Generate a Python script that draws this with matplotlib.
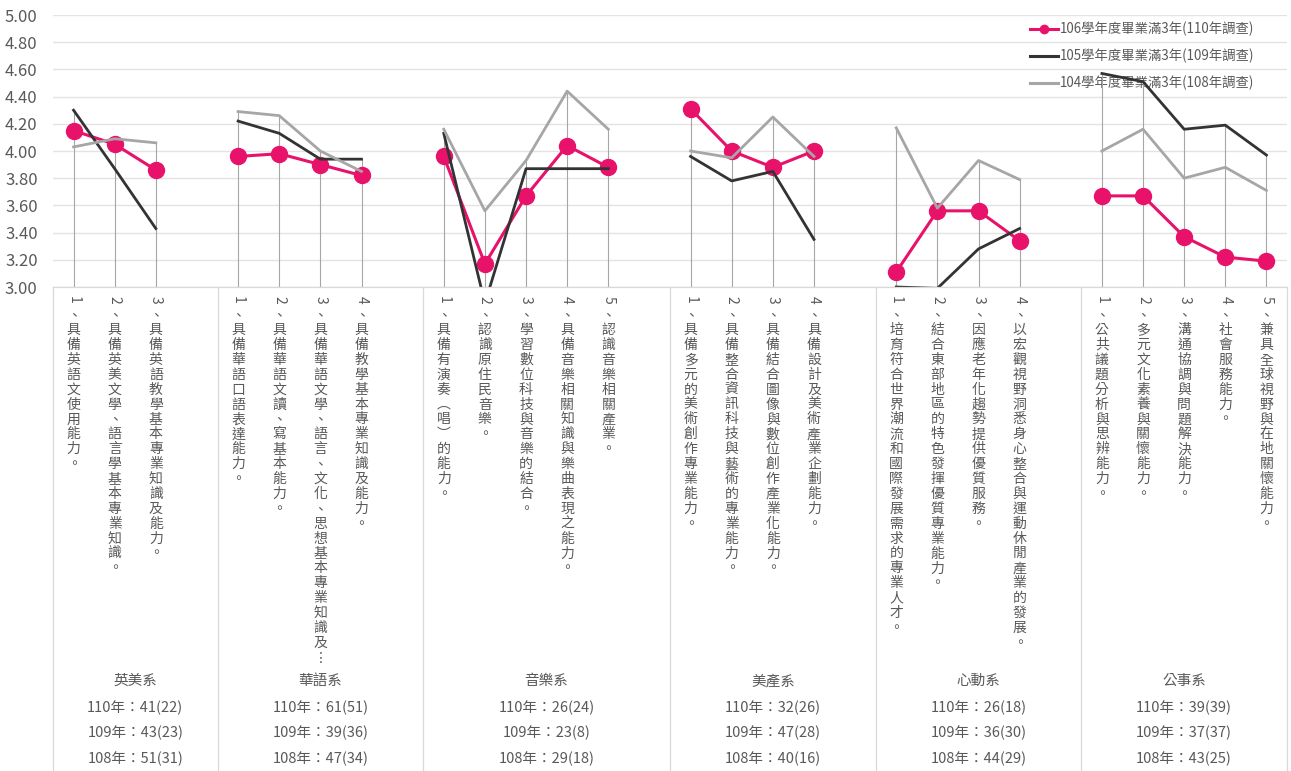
import numpy as np
import matplotlib
matplotlib.use("Agg")
import matplotlib.pyplot as plt
from matplotlib.transforms import blended_transform_factory
from matplotlib.lines import Line2D

plt.rcParams['font.family'] = ['Noto Sans CJK TC', 'DejaVu Sans']

# ---------------- data ----------------
groups = ['英美系', '華語系', '音樂系', '美產系', '心動系', '公事系']

labels = [
    ['1、具備英語文使用能力。',
     '2、具備英美文學、語言學基本專業知識。',
     '3、具備英語教學基本專業知識及能力。'],
    ['1、具備華語口語表達能力。',
     '2、具備華語文讀、寫基本能力。',
     '3、具備華語文學、語言、文化、思想基本專業知識及⋮',
     '4、具備教學基本專業知識及能力。'],
    ['1、具備有演奏︵唱︶的能力。',
     '2、認識原住民音樂。',
     '3、學習數位科技與音樂的結合。',
     '4、具備音樂相關知識與樂曲表現之能力。',
     '5、認識音樂相關產業。'],
    ['1、具備多元的美術創作專業能力。',
     '2、具備整合資訊科技與藝術的專業能力。',
     '3、具備結合圖像與數位創作產業化能力。',
     '4、具備設計及美術產業企劃能力。'],
    ['1、培育符合世界潮流和國際發展需求的專業人才。',
     '2、結合東部地區的特色發揮優質專業能力。',
     '3、因應老年化趨勢提供優質服務。',
     '4、以宏觀視野洞悉身心整合與運動休閒產業的發展。'],
    ['1、公共議題分析與思辨能力。',
     '2、多元文化素養與關懷能力。',
     '3、溝通協調與問題解決能力。',
     '4、社會服務能力。',
     '5、兼具全球視野與在地關懷能力。'],
]

counts_110 = ['41(22)', '61(51)', '26(24)', '32(26)', '26(18)', '39(39)']
counts_109 = ['43(23)', '39(36)', '23(8)', '47(28)', '36(30)', '37(37)']
counts_108 = ['51(31)', '47(34)', '29(18)', '40(16)', '44(29)', '43(25)']

series_names = ['106學年度畢業滿3年(110年調查)',
                '105學年度畢業滿3年(109年調查)',
                '104學年度畢業滿3年(108年調查)']

s106 = [[4.15, 4.05, 3.86],
        [3.96, 3.98, 3.90, 3.82],
        [3.96, 3.17, 3.67, 4.04, 3.88],
        [4.31, 4.00, 3.88, 4.00],
        [3.11, 3.56, 3.56, 3.34],
        [3.67, 3.67, 3.37, 3.22, 3.19]]
s105 = [[4.30, 3.87, 3.43],
        [4.22, 4.13, 3.94, 3.94],
        [4.13, 2.88, 3.87, 3.87, 3.87],
        [3.96, 3.78, 3.85, 3.35],
        [3.00, 2.99, 3.28, 3.43],
        [4.57, 4.51, 4.16, 4.19, 3.97]]
s104 = [[4.03, 4.09, 4.06],
        [4.29, 4.26, 4.00, 3.85],
        [4.16, 3.56, 3.93, 4.44, 4.16],
        [4.00, 3.95, 4.25, 3.96],
        [4.17, 3.58, 3.93, 3.79],
        [4.00, 4.16, 3.80, 3.88, 3.71]]

yticks = [3.0, 3.2, 3.4, 3.6, 3.8, 4.0, 4.2, 4.4, 4.6, 4.8, 5.0]

# ---------------- build category slots (one blank slot between groups) ----------------
def flatten(series):
    out = []
    for gi, g in enumerate(series):
        out.extend(g)
        if gi < len(series) - 1:
            out.append(np.nan)
    return np.array(out, dtype=float)

y106, y105, y104 = flatten(s106), flatten(s105), flatten(s104)
n = len(y106)
x = np.arange(n)

# group spans in slot units
spans = []
start = 0
for gi, g in enumerate(labels):
    size = len(g) + (1 if gi < len(labels) - 1 else 0)
    spans.append((start, start + size))
    start += size

# ---------------- figure ----------------
W, H, DPI = 1291, 771, 100
fig = plt.figure(figsize=(W / DPI, H / DPI), dpi=DPI)
ax_l, ax_r, ax_t, ax_b = 53, 1287, 15, 287
ax = fig.add_axes([ax_l / W, 1 - ax_b / H, (ax_r - ax_l) / W, (ax_b - ax_t) / H])

ax.set_xlim(-0.5, n - 0.5)
ax.set_ylim(3.0, 5.0)
for s in ax.spines.values():
    s.set_visible(False)
ax.set_xticks([])
ax.set_yticks(yticks)
ax.set_yticklabels([f'{v:.2f}' for v in yticks])
ax.tick_params(axis='y', length=0, pad=11, labelsize=12, labelcolor='#595959')
for t in ax.get_yticklabels():
    t.set_fontfamily(['Noto Sans CJK TC', 'DejaVu Sans'])
ax.grid(axis='y', color='#E3E3E3', lw=1.0, zorder=0)
ax.set_axisbelow(True)

# drop lines from highest point to axis
ymax = np.nanmax(np.vstack([y106, y105, y104]), axis=0)
for xi, ym in zip(x, ymax):
    if not np.isnan(ym):
        ax.plot([xi, xi], [3.0, ym], color='#A6A6A6', lw=0.8, zorder=1.5, solid_capstyle='butt')

PINK, BLACK, GRAY = '#E8126A', '#333333', '#A6A6A6'
ax.plot(x, y106, color=PINK, lw=2.2, marker='o', markersize=11.5, zorder=3,
        label=series_names[0])
ax.plot(x, y105, color=BLACK, lw=2.0, zorder=3.1, label=series_names[1])
ax.plot(x, y104, color=GRAY, lw=2.0, zorder=3.2, label=series_names[2])

handles = [Line2D([], [], color=PINK, lw=2.2, marker='o', markersize=6),
           Line2D([], [], color=BLACK, lw=2.2),
           Line2D([], [], color=GRAY, lw=2.2)]
leg = ax.legend(handles, series_names, loc='upper left',
                bbox_to_anchor=(1030 / W, 1 - 22 / H), bbox_transform=fig.transFigure,
                frameon=False, fontsize=9.6, labelcolor='#595959', handlelength=2.1,
                handletextpad=0.15, labelspacing=0.93, borderpad=0, borderaxespad=0)
leg.set_zorder(1)

# ---------------- category area ----------------
def fy(py):
    return 1 - py / H

bt = blended_transform_factory(ax.transData, fig.transFigure)
LINE_C = '#D9D9D9'
fig.add_artist(Line2D([ax_l / W, ax_r / W], [fy(ax_b), fy(ax_b)], color=LINE_C, lw=0.9))
edges = [spans[0][0] - 0.5] + [b - 0.5 for a, b in spans]
for e in edges:
    fig.add_artist(Line2D([e, e], [fy(ax_b), 0], color=LINE_C, lw=0.9, transform=bt))

TXT = '#595959'
pitch = 14.9
slot = 0
for gi, g in enumerate(labels):
    for li, lab in enumerate(g):
        num, rest = lab[0], lab[1:]
        fig.text(slot, fy(300), num, transform=bt, rotation=-90, ha='center', va='center',
                 fontsize=10, color=TXT)
        y0 = 315
        for ci, ch in enumerate(rest):
            if ci == 0:
                py = y0
            else:
                py = 330 + (ci - 1) * pitch
            fig.text(slot, fy(py), ch, transform=bt, ha='center', va='center',
                     fontsize=10, color=TXT)
        slot += 1
    slot += 1
    a, b = spans[gi]
    cx = (a + b - 1) / 2.0
    fig.text(cx, fy(681), groups[gi], transform=bt, ha='center', va='center',
             fontsize=10.5, color=TXT)
    fig.text(cx, fy(708), f'110年：{counts_110[gi]}', transform=bt, ha='center',
             va='center', fontsize=10.5, color=TXT)
    fig.text(cx, fy(733), f'109年：{counts_109[gi]}', transform=bt, ha='center',
             va='center', fontsize=10.5, color=TXT)
    fig.text(cx, fy(759), f'108年：{counts_108[gi]}', transform=bt, ha='center',
             va='center', fontsize=10.5, color=TXT)

fig.savefig('out.png', dpi=DPI)
